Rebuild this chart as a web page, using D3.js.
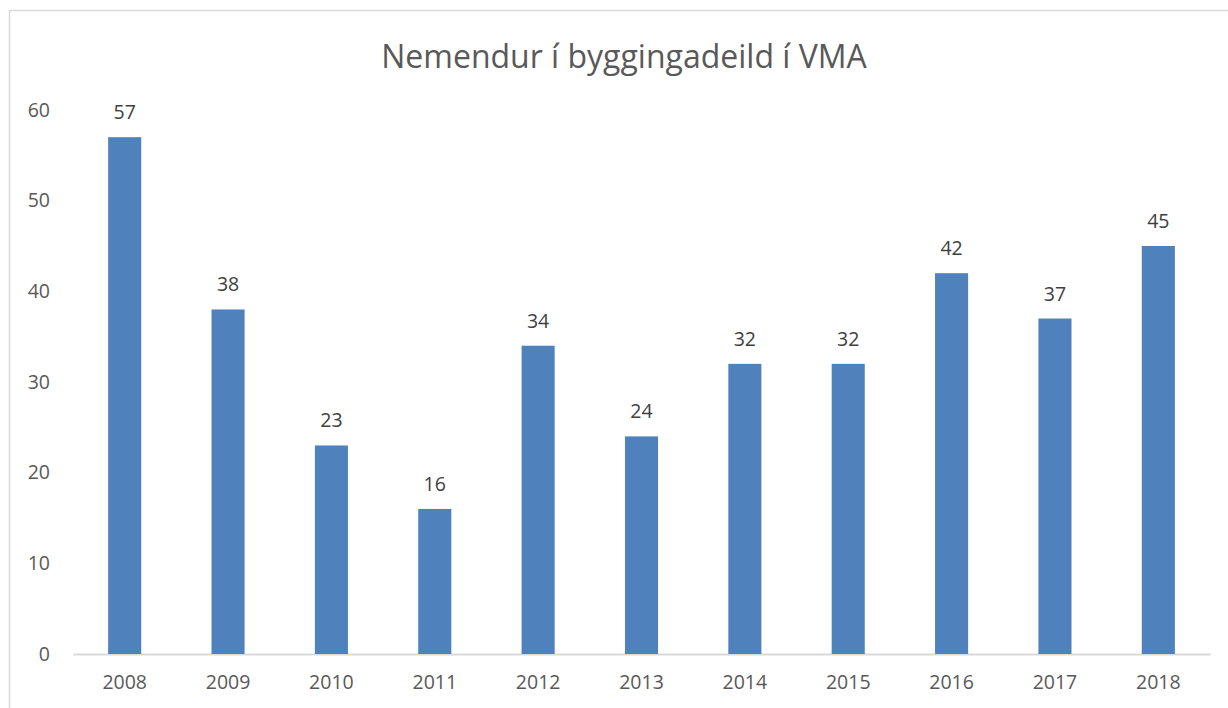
<!DOCTYPE html>
<html>
<head>
<meta charset="utf-8">
<script src="https://cdn.jsdelivr.net/npm/d3@7"></script>
<style>
  body { margin: 0; background: #fff; }
  svg text { font-family: "Open Sans", "Liberation Sans", sans-serif; }
</style>
</head>
<body>
<svg id="chart"></svg>
<script>
// Chart data
const years = ["2008", "2009", "2010", "2011", "2012", "2013", "2014", "2015", "2016", "2017", "2018"];
const students = [57, 38, 23, 16, 34, 24, 32, 32, 42, 37, 45];
const yTicks = [0, 10, 20, 30, 40, 50, 60];
const title = "Nemendur í byggingadeild í VMA";

const dims = {
    width: 1228,
    height: 708,
    marginLeft: 73,
    marginRight: 18,
    marginTop: 110,
    marginBottom: 54
};

const svg = d3.select("#chart")
    .attr("width", dims.width)
    .attr("height", dims.height);

// chart border
svg.append("rect")
    .attr("x", 9.5)
    .attr("y", 10.5)
    .attr("width", 1240)
    .attr("height", 720)
    .attr("fill", "none")
    .attr("stroke", "#d9d9d9")
    .attr("stroke-width", 1.5);

let x = d3.scaleBand()
    .domain(years)
    .range([dims.marginLeft, dims.width - dims.marginRight])
    .paddingInner(0.68)
    .paddingOuter(0.34);

let y = d3.scaleLinear()
    .domain([0, 60])
    .range([dims.height - dims.marginBottom, dims.marginTop]);

// x axis
svg.append("g")
    .attr("transform", `translate(0, ${dims.height - dims.marginBottom})`)
    .call(d3.axisBottom(x).tickSize(0).tickPadding(21).tickSizeOuter(0))
    .call(g => g.select(".domain").attr("stroke", "#d9d9d9").attr("stroke-width", 2))
    .call(g => g.selectAll("text")
        .attr("fill", "#595959")
        .style("font-size", "19.5px"));

// y axis
svg.append("g")
    .attr("transform", `translate(${dims.marginLeft - 23}, 0)`)
    .call(d3.axisLeft(y).tickValues(yTicks).tickSize(0).tickPadding(0))
    .call(g => g.select(".domain").remove())
    .call(g => g.selectAll("text")
        .attr("fill", "#595959")
        .style("font-size", "19.5px"));

// title
svg.append("text")
    .attr("x", 624)
    .attr("y", 68)
    .attr("text-anchor", "middle")
    .attr("fill", "#595959")
    .style("font-size", "32px")
    .text(title);

// bars
svg.append("g")
    .selectAll("rect")
    .data(students)
    .join("rect")
    .attr("x", (d, i) => x(years[i]))
    .attr("y", d => y(d))
    .attr("width", x.bandwidth())
    .attr("height", d => y(0) - y(d))
    .attr("fill", "#4f81bd");

// data labels
svg.append("g")
    .selectAll("text")
    .data(students)
    .join("text")
    .attr("x", (d, i) => x(years[i]) + x.bandwidth() / 2)
    .attr("y", d => y(d) - 18)
    .attr("text-anchor", "middle")
    .attr("fill", "#404040")
    .style("font-size", "19.5px")
    .text(d => d);
</script>
</body>
</html>
